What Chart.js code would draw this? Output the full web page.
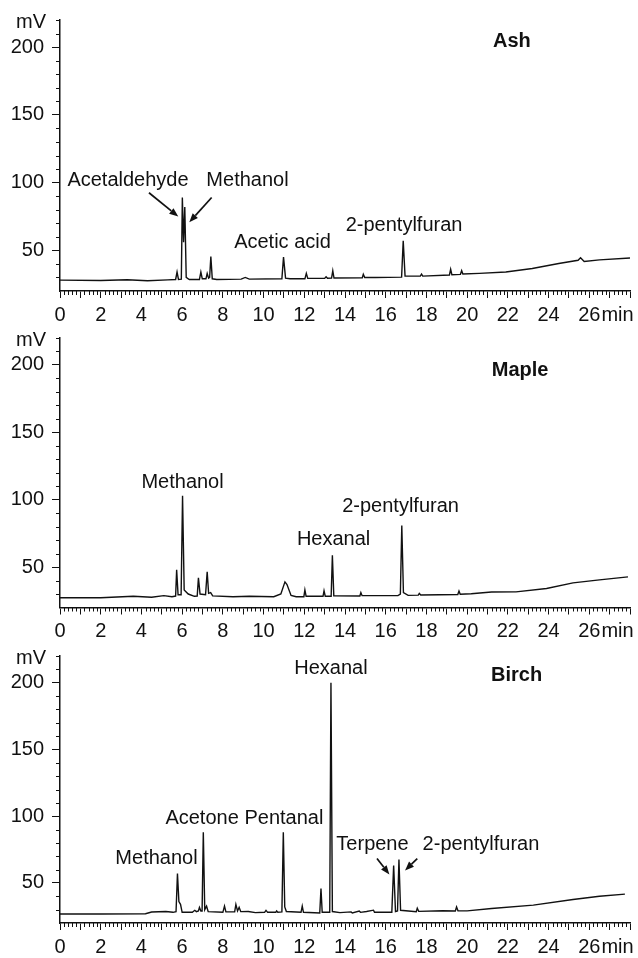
<!DOCTYPE html>
<html><head><meta charset="utf-8">
<script src="https://cdn.jsdelivr.net/npm/chart.js@4"></script>
<style>
html,body{margin:0;padding:0;background:#fff;width:638px;height:958px;overflow:hidden;position:relative}
canvas{position:absolute;left:0}
</style></head><body>
<canvas id="c1" width="638" height="326" style="top:0px"></canvas>
<canvas id="c2" width="638" height="326" style="top:318px"></canvas>
<canvas id="c3" width="638" height="326" style="top:636px"></canvas>
<script>
// ---- data (time in min, signal in mV) ----
const xTickLabels = [0,2,4,6,8,10,12,14,16,18,20,22,24,26];
const yTickLabels = [50,100,150,200];

const ashTrace = [
  [0,28],[2.0,27.8],[3.3,28.3],[4.3,27.6],[5.3,28.2],[5.68,28.5],[5.75,34],[5.82,28.5],
  [5.96,28.8],[6.01,89],[6.07,56],[6.13,82],[6.2,30],[6.35,28.5],[6.85,28.5],[6.92,34],
  [6.99,29],[7.17,29],[7.23,33],[7.3,29.5],[7.35,30],[7.41,45.5],[7.48,29],[7.7,28.5],
  [8.9,28.8],[9.1,30],[9.3,28.8],[10.9,29],[10.98,45],[11.08,29.5],[11.3,29],[12.03,29],
  [12.1,33],[12.17,29.3],[13.0,29.3],[13.07,30.5],[13.14,29.4],[13.34,29.5],[13.4,35],[13.46,29.6],
  [14.85,29.8],[14.9,32.4],[14.97,30],[15.5,30],[16.78,30.2],[16.86,57],[16.95,31],[17.7,31],
  [17.76,32.5],[17.82,31],[19.13,31.8],[19.19,36],[19.25,32],[19.67,32.3],[19.73,35],[19.79,32.5],
  [20.6,33],[21.9,34],[23.2,36.6],[24.5,40.3],[25.45,42.7],[25.57,44.5],[25.75,41.8],[26.5,43],[28,44.4]
];
const mapleTrace = [
  [0,27.2],[2.0,27.2],[3.6,28.4],[4.5,27.6],[5.1,28.8],[5.5,28],[5.68,28.5],[5.73,48],[5.8,29.5],
  [5.95,29.5],[6.02,103],[6.1,33],[6.3,30],[6.6,28.3],[6.74,28.5],[6.8,42],[6.88,30],[7.15,29.5],
  [7.23,46.5],[7.3,30.5],[7.4,31],[7.5,28.6],[8.5,28],[9.3,28.4],[10.5,28],[10.85,30],[11.05,39],
  [11.15,37],[11.35,29],[11.6,28],[11.98,28],[12.03,33],[12.09,28.3],[12.92,28.3],[12.97,32.4],
  [13.03,28.4],[13.32,28.4],[13.38,58.7],[13.45,28.6],[14.73,28.5],[14.78,31],[14.84,28.8],[16.6,28.8],
  [16.72,30],[16.79,80.8],[16.87,31],[17.1,29],[17.6,29.2],[17.65,30.5],[17.72,29.3],[19.54,29.6],
  [19.6,32.2],[19.66,29.9],[20.2,30.2],[21.2,31.5],[22.4,31.6],[23.9,34.1],[25.2,38.3],[26.5,40.5],[27.9,42.7]
];
const birchTrace = [
  [0,26.7],[2.0,26.7],[4.2,26.9],[4.5,28.2],[5.2,28.6],[5.55,28],[5.7,28.5],[5.77,57],[5.84,36],
  [5.92,34],[6.0,28],[6.5,28],[6.62,29.5],[6.7,28.5],[6.8,29],[6.85,31.7],[6.92,29],[6.98,29],
  [7.04,88],[7.11,30],[7.2,32.6],[7.28,28.5],[8.0,28],[8.08,32.6],[8.15,28.3],[8.58,28.3],[8.64,33.9],
  [8.72,29],[8.8,31.7],[8.88,28.5],[9.25,28.6],[9.6,27.8],[10.05,28],[10.12,29.5],[10.2,28],[10.6,28],
  [10.64,29],[10.7,28],[10.9,28.3],[10.97,88],[11.04,32],[11.12,28.6],[11.84,28],[11.9,32.6],[11.96,28],
  [12.76,27.5],[12.82,45.8],[12.88,28],[13.25,28],[13.31,200],[13.38,28.6],[13.75,27.8],[14.3,28.3],
  [14.36,27.5],[14.7,29],[14.76,28],[15.06,28.6],[15.4,29.6],[15.45,28],[16.3,28],[16.39,63],[16.48,28.6],
  [16.58,29],[16.65,67.6],[16.73,29.5],[17.5,28.5],[17.55,31],[17.62,28.7],[18.8,29.2],[19.42,29],
  [19.48,32],[19.55,29.1],[20.0,29.1],[21.2,30.9],[23.25,33.4],[25.2,37.6],[26.5,40],[27.75,41.6]
];

// ---- annotations (anchored in data units) ----
const ashNotes = [
  {text:'Acetaldehyde', t:3.34, v:101.3},
  {text:'Methanol', t:9.21, v:101.3},
  {text:'Acetic acid', t:10.93, v:55.9},
  {text:'2-pentylfuran', t:16.9, v:68.3},
  {text:'Ash', t:22.2, v:204.5, bold:true}
];
const ashArrows = [
  {t1:4.37, v1:92.5, t2:5.81, v2:74.9},
  {t1:7.45, v1:89, t2:6.35, v2:70.7}
];
const mapleNotes = [
  {text:'Methanol', t:6.02, v:112.7},
  {text:'Hexanal', t:13.44, v:70.2},
  {text:'2-pentylfuran', t:16.73, v:94.8},
  {text:'Maple', t:22.6, v:196.2, bold:true}
];
const birchNotes = [
  {text:'Methanol', t:4.74, v:68.6},
  {text:'Acetone', t:6.98, v:98.3},
  {text:'Pentanal', t:11.0, v:98.3},
  {text:'Hexanal', t:13.31, v:210.6},
  {text:'Terpene', t:15.35, v:78.7},
  {text:'2-pentylfuran', t:20.68, v:78.7},
  {text:'Birch', t:22.43, v:205.7, bold:true}
];
const birchArrows = [
  {t1:15.57, v1:68.3, t2:16.18, v2:56.4},
  {t1:17.55, v1:68.3, t2:16.95, v2:59.4}
];

const FONT = '"Liberation Sans", Arial, Helvetica, sans-serif';
const INK = '#111111';
const FS = 20;
const XTL = 7, XPAD = 5;

const decor = {
  id: 'decor',
  afterDraw(chart, args, opts) {
    const ctx = chart.ctx, xs = chart.scales.x, ys = chart.scales.y;
    ctx.save();
    ctx.strokeStyle = INK; ctx.lineWidth = 1;
    ctx.beginPath();
    for (let i = 0; i <= 140; i++) {
      if (i % 5 === 0) continue;
      const px = Math.round(xs.getPixelForValue(i * 0.2)) + 0.5;
      ctx.moveTo(px, xs.top); ctx.lineTo(px, xs.top + 4);
    }
    for (let v = 30; v <= 220; v += 10) {
      if (v % 50 === 0) continue;
      const py = Math.round(ys.getPixelForValue(v)) + 0.5;
      ctx.moveTo(ys.right - 4, py); ctx.lineTo(ys.right, py);
    }
    ctx.stroke();
    ctx.fillStyle = INK;
    ctx.font = `${FS}px ${FONT}`;
    ctx.textBaseline = 'middle';
    ctx.textAlign = 'right';
    ctx.fillText('mV', 46, ys.getPixelForValue(220) + 2);
    // "min" after the last time label
    ctx.textAlign = 'left';
    const w26 = ctx.measureText('26').width;
    ctx.fillText('min', xs.getPixelForValue(26) + w26 / 2 + 1, xs.top + XTL + XPAD + FS * 0.6);
    // labels
    ctx.textAlign = 'center';
    (opts.notes || []).forEach(n => {
      ctx.font = (n.bold ? 'bold 20px ' : `${FS}px `) + FONT;
      ctx.fillText(n.text, xs.getPixelForValue(n.t), ys.getPixelForValue(n.v));
    });
    // arrows
    ctx.lineWidth = 1.7;
    (opts.arrows || []).forEach(a => {
      const x1 = xs.getPixelForValue(a.t1), y1 = ys.getPixelForValue(a.v1);
      const x2 = xs.getPixelForValue(a.t2), y2 = ys.getPixelForValue(a.v2);
      const ang = Math.atan2(y2 - y1, x2 - x1);
      const L = 9, W = 3.5;
      const bx = x2 - L * Math.cos(ang), by = y2 - L * Math.sin(ang);
      ctx.beginPath(); ctx.moveTo(x1, y1); ctx.lineTo(bx, by); ctx.stroke();
      ctx.beginPath();
      ctx.moveTo(x2, y2);
      ctx.lineTo(bx + W * Math.sin(ang), by - W * Math.cos(ang));
      ctx.lineTo(bx - W * Math.sin(ang), by + W * Math.cos(ang));
      ctx.closePath(); ctx.fill();
    });
    ctx.restore();
  }
};

function makeChart(id, trace, plotBottom, notes, arrows) {
  const H = 326;
  return new Chart(document.getElementById(id), {
    type: 'scatter',
    data: { datasets: [{
      data: trace.map(p => ({x: p[0], y: p[1]})),
      showLine: true, borderColor: INK, borderWidth: 1.4,
      pointRadius: 0, tension: 0, fill: false
    }]},
    options: {
      responsive: false, animation: false, devicePixelRatio: 1,
      layout: { padding: { top: 18, right: 8, left: 0, bottom: 0 } },
      plugins: { legend: { display: false }, tooltip: { enabled: false },
        decor: { notes: notes, arrows: arrows } },
      scales: {
        x: {
          type: 'linear', min: 0, max: 28,
          afterBuildTicks: s => { s.ticks = Array.from({length: 29}, (_, i) => ({value: i})); },
          ticks: { autoSkip: false, maxRotation: 0, padding: XPAD, color: INK,
            font: { size: FS, family: FONT },
            callback: v => xTickLabels.includes(v) ? String(v) : '' },
          grid: { drawOnChartArea: false, drawTicks: true, tickLength: XTL, color: INK, lineWidth: 1 },
          border: { display: true, color: INK, width: 1.6 },
          afterFit: s => { s.height = H - plotBottom; }
        },
        y: {
          type: 'linear', min: 20, max: 220,
          afterBuildTicks: s => { s.ticks = yTickLabels.map(v => ({value: v})); },
          ticks: { padding: 8, color: INK, font: { size: FS, family: FONT } },
          grid: { drawOnChartArea: false, drawTicks: true, tickLength: 8, color: INK, lineWidth: 1 },
          border: { display: true, color: INK, width: 1.5 },
          afterFit: s => { s.width = 60; }
        }
      }
    },
    plugins: [decor]
  });
}

makeChart('c1', ashTrace, 291, ashNotes, ashArrows);
makeChart('c2', mapleTrace, 289.5, mapleNotes, []);
makeChart('c3', birchTrace, 287, birchNotes, birchArrows);
</script>
</body></html>
